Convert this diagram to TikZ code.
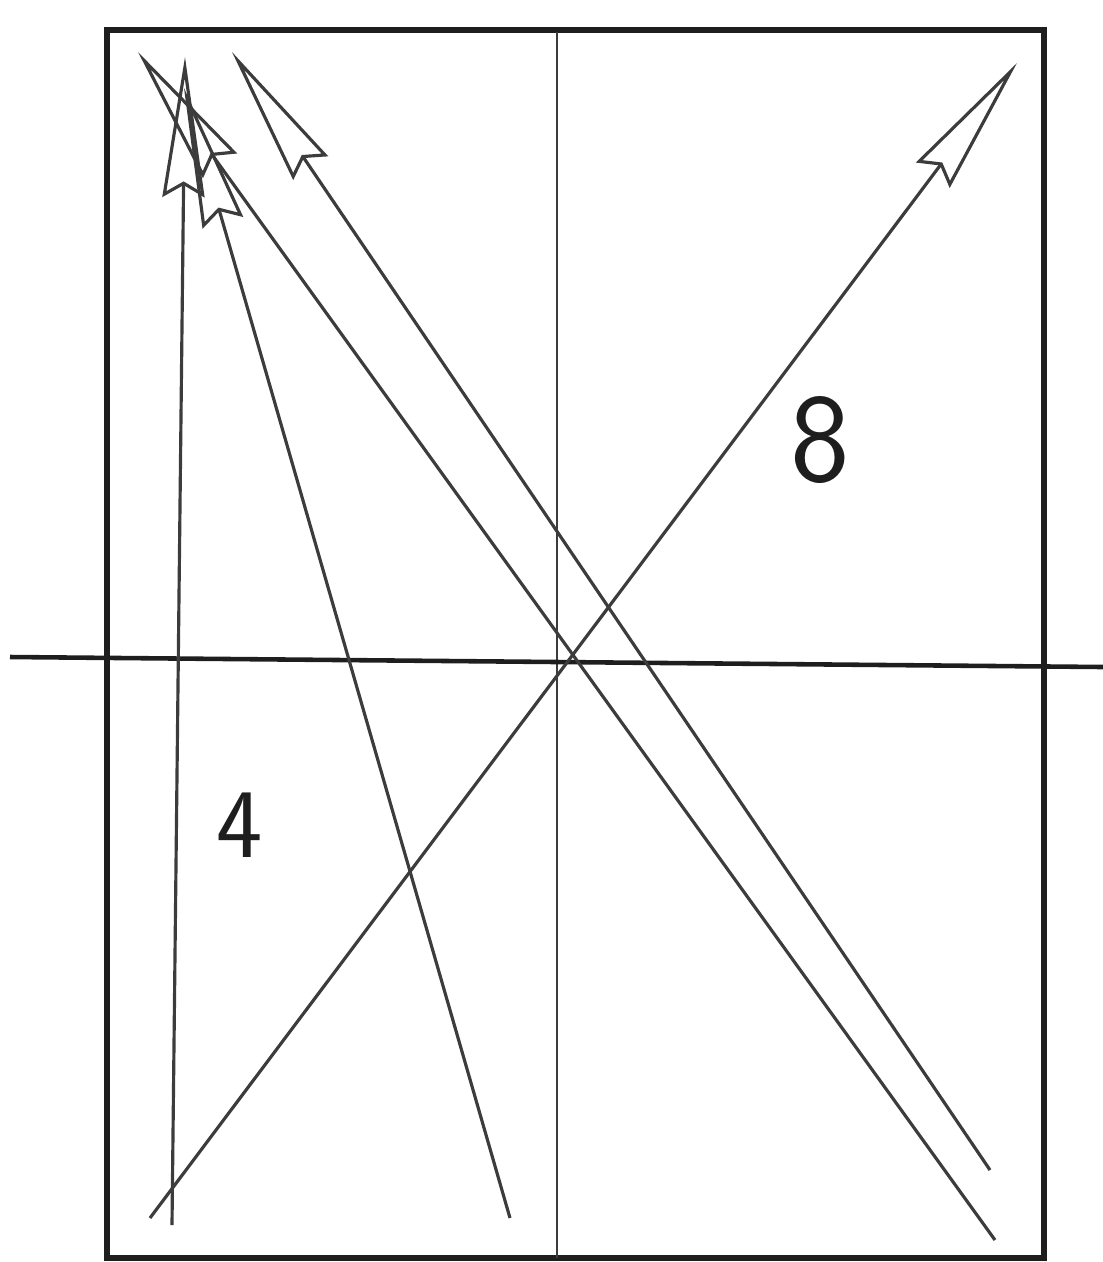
\documentclass[tikz,border=0pt]{standalone}
\usetikzlibrary{arrows.meta}
\definecolor{ink}{HTML}{1E1E1E}
\definecolor{pencil}{HTML}{3C3C3C}
\tikzset{
  frame/.style={draw=ink,line width=1.6pt},
  guide/.style={draw=pencil,line width=0.8pt},
  axis/.style={draw=ink,line width=1.3pt},
  ray/.style={draw=pencil,line width=0.9pt,
    -{Stealth[open,length=14mm,width=4.2mm,inset=1.2mm]}},
  digit/.style={font=\sffamily\fontsize{36}{36}\selectfont,text=ink}
}
\begin{document}
\begin{tikzpicture}[x=0.01cm,y=-0.01cm]
    \useasboundingbox (0,0) rectangle (1103,1262);
    \draw[frame] (107,30) rectangle (1044,1258);
    \draw[guide] (557,32) -- (557,1258);
    \coordinate (h-left) at (10,657);
    \coordinate (h-right) at (1103,667);
    \draw[axis] (h-left) -- (h-right);
    \coordinate (up-foot) at (172,1225);
    \coordinate (up-tip) at (185,57);
    \coordinate (a-foot) at (510,1218);
    \coordinate (a-tip) at (184,88);
    \coordinate (b-foot) at (995,1240);
    \coordinate (b-tip) at (138,52);
    \coordinate (c-foot) at (990,1170);
    \coordinate (c-tip) at (232,52);
    \coordinate (d-foot) at (150,1218);
    \coordinate (d-tip) at (1017,63);
    \draw[ray] (up-foot) -- (up-tip);
    \draw[ray] (a-foot) -- (a-tip);
    \draw[ray] (b-foot) -- (b-tip);
    \draw[ray] (c-foot) -- (c-tip);
    \draw[ray] (d-foot) -- (d-tip);
    \node[digit] (eight) at (820,440) {8};
    \node[digit,font=\sffamily\fontsize{28}{28}\selectfont] (four) at (240,825) {4};
  \end{tikzpicture}
\end{document}
